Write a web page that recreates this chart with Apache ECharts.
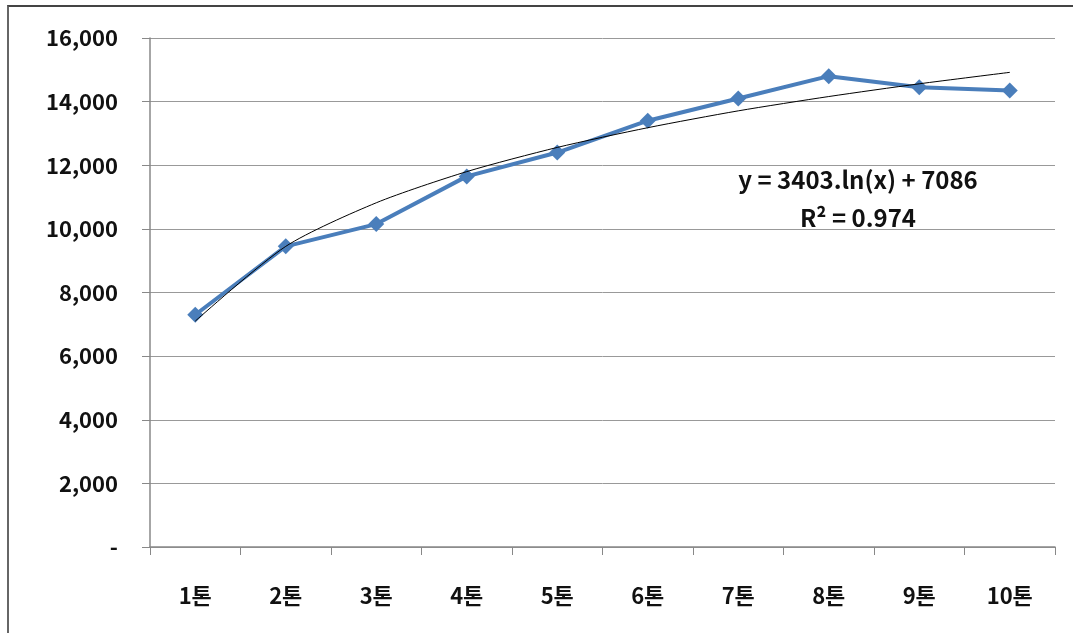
<!DOCTYPE html>
<html><head><meta charset="utf-8">
<script src="https://cdn.jsdelivr.net/npm/echarts@6/dist/echarts.min.js"></script>
<style>
html,body{margin:0;padding:0;background:#fff;}
#frame{position:absolute;left:7px;top:5px;width:1100px;height:700px;border-left:2px solid #666;border-top:2px solid #444;}
#c{position:absolute;left:0;top:0;width:1073px;height:633px;}
</style></head>
<body><div id="frame"></div><div id="c"></div>
<script>
const categories = ['1톤','2톤','3톤','4톤','5톤','6톤','7톤','8톤','9톤','10톤'];
const values = [7300, 9450, 10150, 11650, 12400, 13400, 14100, 14800, 14450, 14350];
const trendValues = [7100, 9450, 10820, 11800, 12560, 13180, 13710, 14160, 14560, 14920];
const yTicks = [0, 2000, 4000, 6000, 8000, 10000, 12000, 14000, 16000];
const equationText = 'y = 3403.ln(x) + 7086';
const r2Text = 'R² = 0.974';

const font = '"Noto Sans CJK KR", "Noto Sans", sans-serif';
const chart = echarts.init(document.getElementById('c'));
chart.setOption({
  animation: false,
  grid: {left: 150, right: 18, top: 38, bottom: 86},
  xAxis: {
    type: 'category', data: categories, boundaryGap: true,
    axisLine: {lineStyle: {color: '#888', width: 1.5}},
    axisTick: {show: true, length: 8, lineStyle: {color: '#888'}},
    axisLabel: {color: '#111', fontFamily: font, fontWeight: 'bold', fontSize: 22, margin: 38}
  },
  yAxis: {
    type: 'value', min: yTicks[0], max: yTicks[yTicks.length-1], interval: 2000,
    axisLine: {show: true, lineStyle: {color: '#888', width: 1.5}},
    axisTick: {show: true, length: 8, inside: false, lineStyle: {color: '#888'}},
    splitLine: {lineStyle: {color: '#999', width: 1}},
    axisLabel: {
      color: '#111', fontFamily: font, fontWeight: 'bold', fontSize: 22, margin: 32,
      formatter: v => v === 0 ? '-' : v.toLocaleString('en-US')
    }
  },
  series: [
    {
      type: 'line', data: values, symbol: 'diamond', symbolSize: 16,
      lineStyle: {color: '#4A7EBB', width: 4},
      itemStyle: {color: '#4A7EBB'}, z: 2
    },
    {
      type: 'line', data: trendValues, symbol: 'none', smooth: 0.25,
      lineStyle: {color: '#000', width: 1}, z: 3
    }
  ],
  graphic: [
    {type: 'text', style: {text: equationText, x: 0, y: 0, textAlign: 'center', textVerticalAlign: 'middle', font: 'bold 24px ' + font, fill: '#111'}, position: [858, 180]},
    {type: 'text', style: {text: r2Text, x: 0, y: 0, textAlign: 'center', textVerticalAlign: 'middle', font: 'bold 24px ' + font, fill: '#111'}, position: [858, 218]}
  ]
});
</script></body></html>
